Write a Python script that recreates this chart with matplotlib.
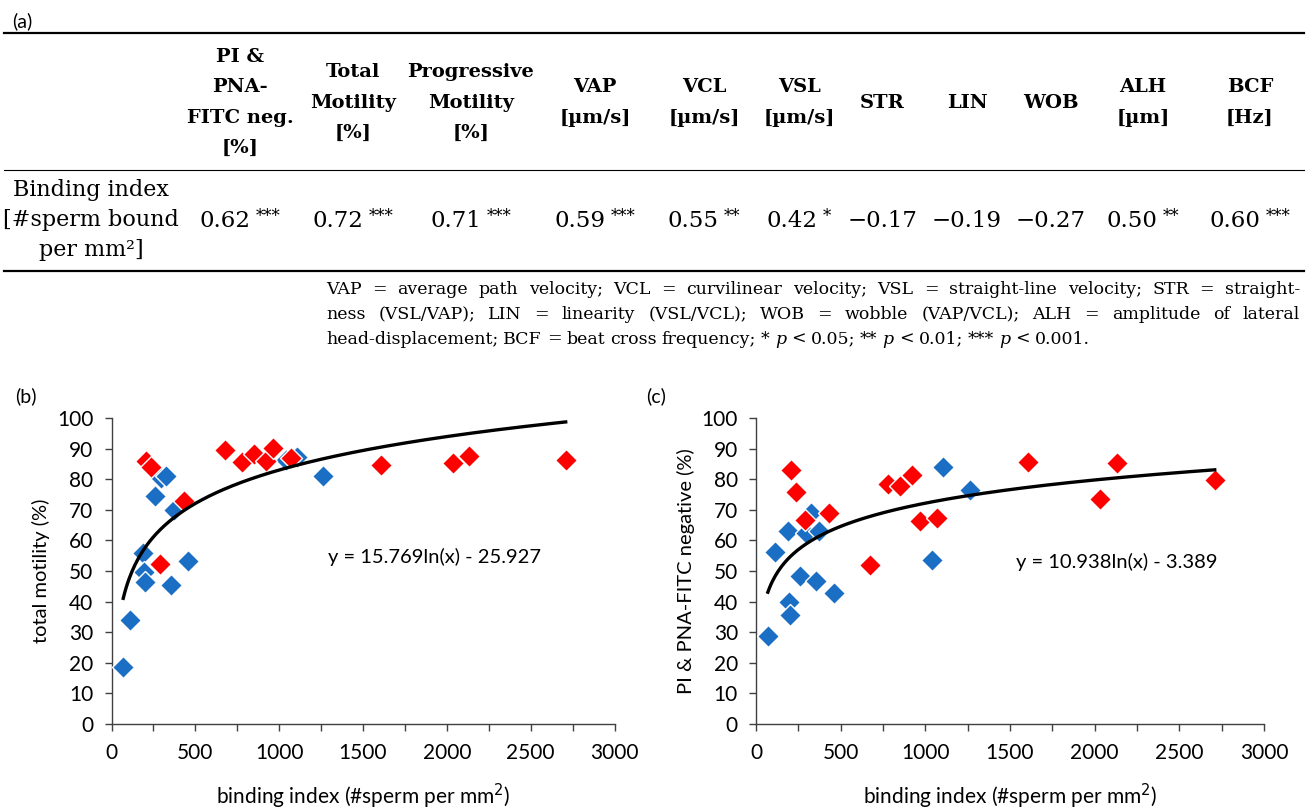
import numpy as np
import matplotlib
matplotlib.use("Agg")
import matplotlib.pyplot as plt
from matplotlib.ticker import MultipleLocator

plt.rcParams['font.family'] = ['Lato', 'DejaVu Sans']
SERIF = ['DejaVu Serif']

# --- table (a) ---
col_headers = ["PI &\nPNA-\nFITC neg.\n[%]", "Total\nMotility\n[%]", "Progressive\nMotility\n[%]",
               "VAP\n[µm/s]", "VCL\n[µm/s]", "VSL\n[µm/s]", "STR", "LIN", "WOB",
               "ALH\n[µm]", "BCF\n[Hz]"]
r_values = [0.62, 0.72, 0.71, 0.59, 0.55, 0.42, -0.17, -0.19, -0.27, 0.50, 0.60]
r_stars = ["***", "***", "***", "***", "**", "*", "", "", "", "**", "***"]
row_label = ["Binding index", "[#sperm bound", "per mm²]"]
footnote = ["VAP = average path velocity; VCL = curvilinear velocity; VSL = straight-line velocity; STR = straight-",
            "ness (VSL/VAP); LIN = linearity (VSL/VCL); WOB = wobble (VAP/VCL); ALH = amplitude of lateral",
            "head-displacement; BCF = beat cross frequency; * p < 0.05; ** p < 0.01; *** p < 0.001."]

# --- scatter data (b) and (c) ---
blue_x = [70, 112, 190, 196, 198, 262, 295, 325, 356, 371, 459, 1038, 1104, 1263]
blue_motility = [18.5, 34, 56, 49.6, 46.5, 74.6, 80.3, 81, 45.4, 69.8, 53.3, 86.4, 87.2, 81]
blue_pna = [28.8, 56.2, 63.1, 40, 35.7, 48.5, 62.4, 68.9, 46.6, 63.2, 42.7, 53.5, 84, 76.6]

red_x = [205, 238, 290, 433, 675, 781, 848, 920, 966, 1071, 1608, 2034, 2134, 2709]
red_motility = [86, 84, 52.3, 73, 89.4, 85.5, 88.3, 85.8, 90.2, 86.8, 84.6, 85.3, 87.7, 86.3]
red_pna = [83.1, 75.8, 66.7, 69.1, 51.8, 78.5, 77.9, 81.5, 66.2, 67.3, 85.5, 73.6, 85.3, 79.6]

fit_b = (15.769, 25.927)
fit_c = (10.938, 3.389)

BLUE = '#1A6FC4'
RED = '#FF0000'

fig = plt.figure(figsize=(13.06, 8.09), dpi=100)
bg = fig.add_axes([0, 0, 1, 1])
bg.set_xlim(0, 1306)
bg.set_ylim(809, 0)
bg.axis('off')
renderer = fig.canvas.get_renderer()

# rules of the table
bg.plot([4, 1304], [33, 33], color='black', lw=1.6)
bg.plot([4, 1304], [170, 170], color='black', lw=0.8)
bg.plot([4, 1304], [271, 271], color='black', lw=1.6)
bg.text(12, 21, "(a)", fontsize=14, va='center', ha='left')

col_x = [240, 353, 471, 595, 704, 799, 882, 967, 1051, 1143, 1250]
for cx, head, v, s in zip(col_x, col_headers, r_values, r_stars):
    lines = head.split("\n")
    n = len(lines)
    for i, ln in enumerate(lines):
        bg.text(cx, 102.5 + (i - (n - 1) / 2) * 30.5, ln, fontsize=14, fontweight='bold',
                family=SERIF, ha='center', va='center')
    num = bg.text(0, 221, f"{v:.2f}".replace('-', '\u2212'), fontsize=16.5, family=SERIF,
                  ha='left', va='center')
    w_num = num.get_window_extent(renderer).width
    if s:
        st = bg.text(0, 216, s, fontsize=12, family=SERIF, ha='left', va='center')
        w_st = st.get_window_extent(renderer).width
        total = w_num + 5 + w_st
        num.set_x(cx - total / 2)
        st.set_x(cx - total / 2 + w_num + 5)
    else:
        num.set_x(cx - w_num / 2)

for i, ln in enumerate(row_label):
    bg.text(91, 190 + i * 30, ln, fontsize=16, family=SERIF, ha='center', va='center')

# justified footnote
x0, x1 = 326, 1300
for k, line in enumerate(footnote):
    y = 290 + k * 24.5
    words = line.split(" ")
    objs = []
    for w in words:
        st = 'italic' if w == 'p' else 'normal'
        objs.append(bg.text(0, y, w, fontsize=12.5, family=SERIF, style=st, ha='left', va='center'))
    widths = [t.get_window_extent(renderer).width for t in objs]
    if k < len(footnote) - 1:
        gap = (x1 - x0 - sum(widths)) / (len(words) - 1)
    else:
        gap = 5.0
    x = x0
    for t, w in zip(objs, widths):
        t.set_x(x)
        x += w + gap


def scatter_panel(ax, by, ry, fit, ylabel, eq_pos):
    ax.scatter(blue_x, by, marker='D', s=125, color=BLUE, edgecolors='white', linewidths=1, zorder=3)
    ax.scatter(red_x, ry, marker='D', s=125, color=RED, edgecolors='white', linewidths=1, zorder=4)
    allx = np.array(blue_x + red_x)
    xs = np.linspace(allx.min(), allx.max(), 300)
    ax.plot(xs, fit[0] * np.log(xs) - fit[1], color='black', lw=2.4, zorder=5)
    ax.text(eq_pos[0], eq_pos[1], f"y = {fit[0]}ln(x) - {fit[1]}", fontsize=14.5,
            ha='left', va='center')
    ax.set_xlim(0, 3000)
    ax.set_ylim(0, 100)
    ax.xaxis.set_major_locator(MultipleLocator(500))
    ax.xaxis.set_minor_locator(MultipleLocator(250))
    ax.yaxis.set_major_locator(MultipleLocator(10))
    for sp in ['top', 'right']:
        ax.spines[sp].set_visible(False)
    for sp in ['left', 'bottom']:
        ax.spines[sp].set_color('#404040')
        ax.spines[sp].set_linewidth(1)
    ax.tick_params(which='both', direction='out', length=5, width=1, color='#404040',
                   labelsize=15)
    ax.tick_params(axis='x', which='major', pad=9)
    ax.tick_params(axis='y', pad=8)
    ax.set_xlabel("binding index (#sperm per mm$^2$)", fontsize=15, labelpad=13)
    ax.set_ylabel(ylabel, fontsize=14.5, labelpad=5)
    ax.patch.set_alpha(0)


axb = fig.add_axes([111.5 / 1306, 85 / 809, 503 / 1306, 306 / 809])
scatter_panel(axb, blue_motility, red_motility, fit_b, "total motility (%)", (1291, 54.6))
axc = fig.add_axes([756 / 1306, 85 / 809, 508 / 1306, 306 / 809])
scatter_panel(axc, blue_pna, red_pna, fit_c, "PI & PNA-FITC negative (%)", (1535, 53))

bg.text(15, 396, "(b)", fontsize=14, va='center', ha='left')
bg.text(646, 396, "(c)", fontsize=14, va='center', ha='left')

fig.savefig("out.png", dpi=100)
